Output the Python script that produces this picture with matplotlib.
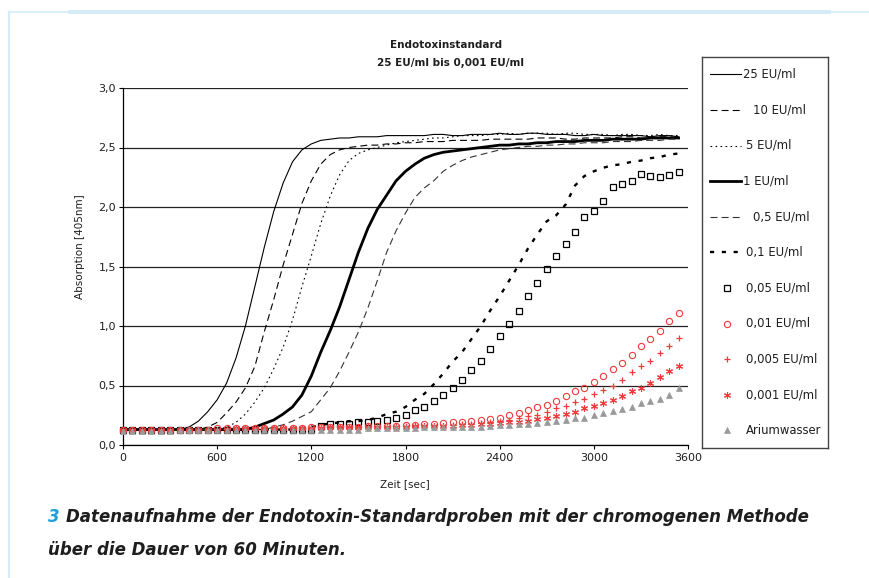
import matplotlib
matplotlib.use("Agg")
import matplotlib.pyplot as plt
from matplotlib.lines import Line2D
from matplotlib.patches import Rectangle
from matplotlib.ticker import FuncFormatter, FixedLocator

plt.rcParams['font.family'] = ['DejaVu Sans']
plt.rcParams['lines.scale_dashes'] = False

# ---------------- data ----------------
time_s = list(range(0, 3600, 60))

eu_25 = [0.13]*7 + [0.15, 0.20, 0.28, 0.38, 0.52, 0.73, 1.00, 1.33, 1.66, 1.96, 2.20, 2.38,
                    2.48, 2.53, 2.56, 2.57, 2.58, 2.58] + \
        [2.59, 2.59, 2.59, 2.60, 2.60, 2.60, 2.60, 2.60, 2.61, 2.61, 2.60, 2.60, 2.61, 2.61, 2.61,
         2.62, 2.61, 2.61, 2.62, 2.62, 2.61, 2.61, 2.61, 2.60, 2.60, 2.61, 2.60, 2.60, 2.60, 2.60,
         2.60, 2.59, 2.60, 2.60, 2.59]
eu_10 = [0.13]*9 + [0.15, 0.19, 0.27, 0.36, 0.48, 0.66, 0.95, 1.22, 1.51, 1.77, 2.03, 2.22, 2.36,
                    2.44, 2.48, 2.50] + \
        [2.51, 2.52, 2.52, 2.53, 2.53, 2.54, 2.54, 2.55, 2.55, 2.55, 2.56, 2.56, 2.56, 2.56, 2.57,
         2.57, 2.57, 2.57, 2.57, 2.58, 2.58, 2.58, 2.57, 2.57, 2.58, 2.58, 2.58, 2.58, 2.59, 2.59,
         2.58, 2.58, 2.59, 2.59, 2.58]
eu_5 = [0.13]*11 + [0.15, 0.19, 0.26, 0.36, 0.48, 0.64, 0.82, 1.05, 1.33, 1.59, 1.86, 2.09, 2.27,
                    2.39] + \
       [2.45, 2.48, 2.50, 2.52, 2.54, 2.55, 2.56, 2.57, 2.58, 2.58, 2.59, 2.60, 2.60, 2.60, 2.61,
        2.61, 2.62, 2.61, 2.62, 2.62, 2.62, 2.61, 2.62, 2.62, 2.61, 2.61, 2.61, 2.60, 2.61, 2.61,
        2.60, 2.60, 2.61, 2.60, 2.60]
eu_1 = [0.13]*14 + [0.15, 0.18, 0.21, 0.26, 0.32, 0.42, 0.58, 0.78, 0.96, 1.16, 1.39] + \
       [1.62, 1.82, 1.98, 2.10, 2.22, 2.30, 2.36, 2.41, 2.44, 2.46, 2.47, 2.48, 2.49, 2.50, 2.51,
        2.52, 2.52, 2.53, 2.53, 2.54, 2.54, 2.55, 2.55, 2.55, 2.56, 2.56, 2.56, 2.57, 2.57, 2.57,
        2.57, 2.58, 2.58, 2.58, 2.58]
eu_05 = [0.13]*16 + [0.15, 0.17, 0.20, 0.24, 0.28, 0.38, 0.48, 0.62, 0.78] + \
        [0.95, 1.15, 1.38, 1.62, 1.80, 1.95, 2.08, 2.16, 2.22, 2.30, 2.35, 2.39, 2.42, 2.44, 2.46,
         2.48, 2.49, 2.50, 2.51, 2.51, 2.52, 2.52, 2.53, 2.53, 2.54, 2.54, 2.54, 2.55, 2.55, 2.55,
         2.56, 2.56, 2.56, 2.57, 2.57]
eu_01 = [0.13]*19 + [0.14, 0.15, 0.17, 0.18, 0.19, 0.20] + \
        [0.20, 0.21, 0.23, 0.26, 0.28, 0.32, 0.38, 0.43, 0.51, 0.60, 0.70, 0.78, 0.89, 1.00, 1.13,
         1.25, 1.38, 1.51, 1.65, 1.77, 1.88, 1.93, 2.02, 2.18, 2.26, 2.30, 2.33, 2.35, 2.36, 2.38,
         2.39, 2.41, 2.42, 2.44, 2.45]
eu_005 = [0.13]*21 + [0.16, 0.18, 0.18, 0.18] + \
         [0.19, 0.195, 0.20, 0.21, 0.23, 0.25, 0.29, 0.32, 0.37, 0.42, 0.48, 0.55, 0.63, 0.71, 0.81,
          0.92, 1.02, 1.13, 1.25, 1.36, 1.48, 1.59, 1.69, 1.79, 1.92, 1.97, 2.05, 2.17, 2.19, 2.22,
          2.28, 2.26, 2.25, 2.27, 2.29]
eu_001 = [0.13]*10 + [0.14]*10 + [0.15]*5 + \
         [0.15, 0.16, 0.16, 0.16, 0.16, 0.17, 0.17, 0.175, 0.18, 0.185, 0.19, 0.195, 0.20, 0.21, 0.22,
          0.23, 0.25, 0.27, 0.29, 0.32, 0.34, 0.37, 0.41, 0.45, 0.48, 0.53, 0.58, 0.64, 0.69, 0.76,
          0.83, 0.89, 0.96, 1.04, 1.11]
eu_0005 = [0.13]*11 + [0.14]*10 + [0.15]*4 + \
          [0.15, 0.15, 0.15, 0.15, 0.16, 0.16, 0.16, 0.16, 0.16, 0.16, 0.17, 0.175, 0.18, 0.185, 0.19,
           0.20, 0.21, 0.225, 0.24, 0.25, 0.28, 0.31, 0.33, 0.36, 0.39, 0.43, 0.46, 0.50, 0.55, 0.61,
           0.66, 0.71, 0.77, 0.83, 0.90]
eu_0001 = [0.13]*12 + [0.14]*10 + [0.15]*3 + \
          [0.15, 0.15, 0.15, 0.15, 0.15, 0.15, 0.16, 0.16, 0.16, 0.16, 0.16, 0.165, 0.17, 0.175, 0.18,
           0.185, 0.19, 0.195, 0.205, 0.22, 0.23, 0.245, 0.26, 0.28, 0.31, 0.33, 0.35, 0.38, 0.41, 0.45,
           0.48, 0.52, 0.57, 0.62, 0.66]
arium = [0.12]*6 + [0.125]*10 + [0.13]*9 + \
        [0.13, 0.14, 0.14, 0.14, 0.14, 0.14, 0.14, 0.15, 0.15, 0.15, 0.15, 0.15, 0.15, 0.155, 0.16,
         0.165, 0.17, 0.175, 0.18, 0.185, 0.195, 0.20, 0.21, 0.225, 0.23, 0.25, 0.27, 0.285, 0.30, 0.32,
         0.35, 0.37, 0.39, 0.42, 0.48]

labels = ["25 EU/ml", "10 EU/ml", "5 EU/ml", "1 EU/ml", "0,5 EU/ml", "0,1 EU/ml",
          "0,05 EU/ml", "0,01 EU/ml", "0,005 EU/ml", "0,001 EU/ml", "Ariumwasser"]
x_ticks = [0, 600, 1200, 1800, 2400, 3000, 3600]
y_ticks = [0.0, 0.5, 1.0, 1.5, 2.0, 2.5, 3.0]

series = [eu_25, eu_10, eu_5, eu_1, eu_05, eu_01, eu_005, eu_001, eu_0005, eu_0001, arium]
for s in series:
    assert len(s) == len(time_s), len(s)

# ---------------- styles ----------------
RED = '#ee3b3b'
GRAY = '#9a9a9a'
TXT = '#1e1e1e'
styles = [
    dict(color='black', lw=0.8, ls='-'),
    dict(color='black', lw=0.8, ls=(0, (5, 3))),
    dict(color='black', lw=0.8, ls=(0, (1.2, 2.4))),
    dict(color='black', lw=2.0, ls='-'),
    dict(color='#333333', lw=0.8, ls=(0, (5, 3))),
    dict(color='black', lw=1.7, ls=(0, (3.0, 5.5))),
    dict(ls='none', marker='s', ms=5, mfc='none', mec='black', mew=0.9),
    dict(ls='none', marker='o', ms=4.5, mfc='none', mec=RED, mew=0.8),
    dict(ls='none', marker='+', ms=5, mec=RED, mew=0.9),
    dict(ls='none', marker=(6, 2, 0), ms=5, mec=RED, mew=0.8),
    dict(ls='none', marker='^', ms=5, mfc=GRAY, mec=GRAY, mew=0.5),
]

W, H = 869, 578
fig = plt.figure(figsize=(W/100, H/100), dpi=100)

def fx(px):
    return px / W

def fy(py):
    return 1 - py / H

ax = fig.add_axes([fx(123), fy(445), fx(688) - fx(123), fy(88) - fy(445)])
for i, (s, st) in enumerate(zip(series, styles)):
    ax.plot(time_s, s, zorder=3 + i, clip_on=False, **st)

ax.set_xlim(0, 3600)
ax.set_ylim(0, 3.0)
ax.xaxis.set_major_locator(FixedLocator(x_ticks))
ax.yaxis.set_major_locator(FixedLocator(y_ticks))
ax.yaxis.set_major_formatter(FuncFormatter(lambda v, _: f"{v:.1f}".replace('.', ',')))
ax.xaxis.set_major_formatter(FuncFormatter(lambda v, _: f"{int(v)}"))
ax.grid(axis='y', color='#222222', lw=0.9)
ax.set_axisbelow(True)
for side in ('top', 'right'):
    ax.spines[side].set_visible(False)
for side in ('left', 'bottom'):
    ax.spines[side].set_color('black')
    ax.spines[side].set_linewidth(0.9)
ax.tick_params(axis='both', direction='out', length=3, width=0.8, color='black',
               labelsize=8, labelcolor=TXT)
ax.tick_params(axis='y', pad=2)
ax.tick_params(axis='x', pad=3)

fig.text(fx(405), fy(484), "Zeit [sec]", ha='center', va='center', fontsize=7.5, color=TXT)
fig.text(fx(80), fy(247), "Absorption [405nm]", ha='center', va='center', rotation=90,
         fontsize=7.5, color=TXT)
fig.text(fx(446), fy(45), "Endotoxinstandard", ha='center', va='center', fontsize=7.5,
         fontweight='bold', color=TXT)
fig.text(fx(450), fy(63), "25 EU/ml bis 0,001 EU/ml", ha='center', va='center', fontsize=7.5,
         fontweight='bold', color=TXT)

# ---------------- legend box ----------------
lx0, ly0, lw_, lh_ = 702, 57, 126, 391
lax = fig.add_axes([fx(lx0), fy(ly0 + lh_), lw_ / W, lh_ / H])
lax.set_xlim(0, lw_)
lax.set_ylim(lh_, 0)
lax.set_xticks([])
lax.set_yticks([])
for sp in lax.spines.values():
    sp.set_color('#444444')
    sp.set_linewidth(1.0)
text_x = [41, 51, 44, 41, 51, 44, 44, 44, 44, 44, 44]
for i, (lab, st) in enumerate(zip(labels, styles)):
    y = 17.3 + 35.6 * i
    if i < 6:
        lax.add_line(Line2D([8, 39], [y, y], **st))
    else:
        lax.add_line(Line2D([24.7], [y], **st))
    lax.text(text_x[i], y, lab, ha='left', va='center', fontsize=8.4, color=TXT)

# ---------------- page decorations ----------------
deco = '#d4edf9'
fig.add_artist(Line2D([fx(9), fx(9)], [0, fy(12)], color=deco, lw=1.6))
fig.add_artist(Line2D([fx(9), 1], [fy(12), fy(12)], color=deco, lw=1.2))
fig.add_artist(Rectangle((fx(68), fy(14)), fx(831) - fx(68), 4 / H, color=deco, lw=0))

cap_kw = dict(fontsize=12, fontweight='bold', style='italic', va='baseline')
t3 = fig.text(fx(48), fy(522), "3", color='#1ea0dc', **cap_kw)
fig.canvas.draw()
bb = t3.get_window_extent()
fig.text(fx(bb.x1 + 6), fy(522), "Datenaufnahme der Endotoxin-Standardproben mit der chromogenen Methode",
         color=TXT, **cap_kw)
fig.text(fx(48), fy(555), "über die Dauer von 60 Minuten.", color=TXT, **cap_kw)

fig.savefig("out.png", dpi=100)
